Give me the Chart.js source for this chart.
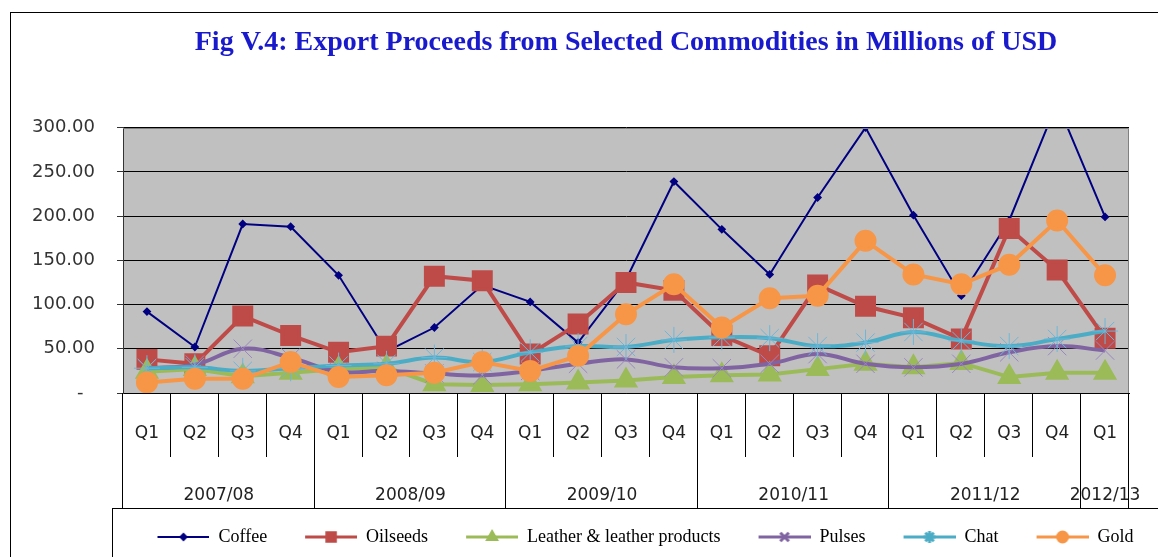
<!DOCTYPE html>
<html>
<head>
<meta charset="utf-8">
<title>Export Proceeds from Selected Commodities</title>
<script src="https://cdn.jsdelivr.net/npm/chart.js@4.4.1/dist/chart.umd.min.js"></script>
<style>
  html, body { margin: 0; padding: 0; background: #fff; }
</style>
</head>
<body>
<canvas id="myChart" width="1158" height="557"></canvas>
<script>
// quarters and fiscal years on the x axis
var quarters = ['Q1', 'Q2', 'Q3', 'Q4', 'Q1', 'Q2', 'Q3', 'Q4', 'Q1', 'Q2', 'Q3', 'Q4',
                'Q1', 'Q2', 'Q3', 'Q4', 'Q1', 'Q2', 'Q3', 'Q4', 'Q1'];
var years = ['2007/08', '2008/09', '2009/10', '2010/11', '2011/12', '2012/13'];

// export proceeds, millions of USD
var coffee   = [92, 52, 191, 188, 133, 47, 74, 122, 103, 57, 128, 239, 185, 134, 221, 300, 201, 110, 195, 328, 199];
var oilseeds = [38, 33, 87, 65, 46, 53, 132, 127, 44, 78, 125, 116, 65, 42, 122, 98, 85, 61, 186, 139, 62];
var leather  = [24, 27, 19, 23, 27, 29, 10, 9, 10, 12, 14, 18, 20, 21, 27, 33, 29, 34, 18, 23, 23];
var pulses   = [28, 32, 50, 40, 24, 25, 22, 20, 25, 33, 38, 29, 28, 33, 44, 33, 29, 33, 46, 53, 48];
var chat     = [28, 29, 25, 28, 31, 33, 40, 35, 46, 53, 52, 60, 63, 62, 53, 57, 69, 59, 53, 61, 70];
var gold     = [12, 16, 16, 35, 18, 20, 23, 35, 25, 42, 89, 123, 74, 107, 110, 172, 134, 123, 145, 195, 133];

var yTicks = [0, 50, 100, 150, 200, 250, 300];

Chart.defaults.font.family = '"DejaVu Sans", sans-serif';

// little line + marker pictures for the legend
function sample(color, lw, style, r, markerColor) {
    var c = document.createElement('canvas');
    c.width = 70;
    c.height = 18;
    var g = c.getContext('2d');
    g.strokeStyle = color;
    g.lineWidth = lw;
    g.beginPath();
    g.moveTo(18, 9);
    g.lineTo(70, 9);
    g.stroke();
    g.fillStyle = markerColor || color;
    g.strokeStyle = markerColor || color;
    Chart.helpers.drawPoint(g, {pointStyle: style, radius: r, rotation: 0, borderWidth: 1}, 44, 9);
    return c;
}

var tablePlugin = {
    id: 'table',
    afterLayout: function(chart) {
        // the legend row sits a bit right of centre, under the plot
        chart.legend.left += 72;
        chart.legend.right += 72;
    },
    beforeDraw: function(chart) {
        var ctx = chart.ctx, a = chart.chartArea;
        ctx.save();
        ctx.fillStyle = '#ffffff';
        ctx.fillRect(0, 0, chart.width, chart.height);
        ctx.fillStyle = '#c0c0c0';
        ctx.fillRect(a.left, a.top, a.right - a.left, a.bottom - a.top);
        ctx.restore();
    },
    afterDatasetsDraw: function(chart) {
        var ctx = chart.ctx, a = chart.chartArea;
        ctx.save();
        ctx.strokeStyle = '#808080';
        ctx.lineWidth = 1;
        ctx.beginPath();
        ctx.moveTo(a.left, Math.round(a.top) + 0.5);
        ctx.lineTo(Math.round(a.right) - 0.5, Math.round(a.top) + 0.5);
        ctx.lineTo(Math.round(a.right) - 0.5, a.bottom);
        ctx.stroke();
        ctx.restore();
    },
    afterDraw: function(chart) {
        var ctx = chart.ctx, a = chart.chartArea, x = chart.scales.x;
        var n = quarters.length;
        ctx.save();
        ctx.strokeStyle = '#000';
        ctx.lineWidth = 1;
        for (var i = 0; i <= n; i++) {
            var px;
            if (i === 0) px = a.left;
            else if (i === n) px = a.right;
            else px = (x.getPixelForValue(i - 1) + x.getPixelForValue(i)) / 2;
            px = Math.round(px) - 0.5;
            var yearEdge = (i % 4 === 0) || i === n;
            ctx.beginPath();
            ctx.moveTo(px, a.bottom);
            ctx.lineTo(px, yearEdge ? x.bottom : a.bottom + 64);
            ctx.stroke();
        }
        ctx.fillStyle = '#222';
        ctx.font = '17px "DejaVu Sans"';
        ctx.textAlign = 'center';
        ctx.textBaseline = 'middle';
        years.forEach(function(yr, k) {
            var first = k * 4;
            var last = Math.min(first + 3, n - 1);
            var cx = (x.getPixelForValue(first) + x.getPixelForValue(last)) / 2;
            ctx.fillText(yr, cx, a.bottom + 103);
        });
        // outer frame and legend box
        ctx.strokeRect(10.5, 12.5, chart.width, chart.height);
        ctx.strokeRect(112.5, Math.round(chart.legend.top) + 0.5, chart.width, chart.height);
        ctx.restore();
    }
};

var samples = [
    sample('#000080', 2, 'rectRot', 3),
    sample('#be4b48', 3, 'rect', 6),
    sample('#9bbb59', 3, 'triangle', 5),
    sample('#8064a2', 3, 'crossRot', 6),
    sample('#4bacc6', 3, 'star', 6),
    sample('#f79646', 3, 'circle', 5)
];

var ctx = document.getElementById('myChart');
var myChart = new Chart(ctx, {
    type: 'line',
    data: {
        labels: quarters,
        datasets: [{
            label: 'Coffee',
            data: coffee,
            borderColor: '#000080',
            backgroundColor: '#000080',
            borderWidth: 2,
            pointStyle: 'rectRot',
            pointRadius: 3,
            clip: 0,
            order: 6
        }, {
            label: 'Oilseeds',
            data: oilseeds,
            borderColor: '#be4b48',
            backgroundColor: '#be4b48',
            borderWidth: 4,
            pointStyle: 'rect',
            pointRadius: 12,
            order: 5
        }, {
            label: 'Leather & leather products',
            data: leather,
            borderColor: '#9bbb59',
            backgroundColor: '#9bbb59',
            borderWidth: 4,
            pointStyle: 'triangle',
            pointRadius: 10,
            order: 4
        }, {
            label: 'Pulses',
            data: pulses,
            borderColor: '#8064a2',
            backgroundColor: '#8064a2',
            pointBorderColor: '#9a88c0',
            borderWidth: 4,
            tension: 0.4,
            pointStyle: 'crossRot',
            pointRadius: 13,
            pointBorderWidth: 1,
            order: 3
        }, {
            label: 'Chat',
            data: chat,
            borderColor: '#4bacc6',
            backgroundColor: '#4bacc6',
            pointBorderColor: '#6fb6d8',
            borderWidth: 4,
            tension: 0.4,
            pointStyle: 'star',
            pointRadius: 13,
            pointBorderWidth: 1,
            order: 2
        }, {
            label: 'Gold',
            data: gold,
            borderColor: '#f79646',
            backgroundColor: '#f79646',
            borderWidth: 4,
            pointStyle: 'circle',
            pointRadius: 9,
            order: 1
        }]
    },
    options: {
        responsive: false,
        animation: false,
        events: [],
        layout: {
            padding: {top: 0, right: 29, bottom: 1, left: 0}
        },
        scales: {
            x: {
                offset: true,
                ticks: {
                    color: '#222',
                    font: {size: 17},
                    padding: 30,
                    maxRotation: 0,
                    autoSkip: false
                },
                grid: {display: false, drawTicks: false, offset: true},
                border: {color: '#000'},
                afterFit: function(s) { s.height = 115; }
            },
            y: {
                min: 0,
                max: 300,
                afterBuildTicks: function(s) { s.ticks = yTicks.map(function(v) { return {value: v}; }); },
                ticks: {
                    padding: 22,
                    color: '#333',
                    font: {size: 18},
                    callback: function(v) { return v === 0 ? '-  ' : v.toFixed(2); }
                },
                grid: {color: '#000', tickLength: 6, tickColor: '#333'},
                border: {color: '#333'},
                afterFit: function(s) { s.width = 123; }
            }
        },
        plugins: {
            title: {
                display: true,
                text: 'Fig V.4: Export Proceeds from Selected Commodities in Millions of USD',
                fullSize: false,
                color: '#1a1acd',
                font: {family: '"Liberation Serif", serif', size: 28, weight: 'bold'},
                padding: {top: 26, bottom: 68}
            },
            legend: {
                position: 'bottom',
                maxHeight: 48,
                labels: {
                    usePointStyle: true,
                    pointStyleWidth: 70,
                    boxHeight: 18,
                    padding: 20,
                    color: '#000',
                    font: {family: '"Liberation Serif", serif', size: 18},
                    generateLabels: function(chart) {
                        return chart.data.datasets.map(function(ds, i) {
                            return {
                                text: ds.label,
                                pointStyle: samples[i],
                                fillStyle: ds.borderColor,
                                strokeStyle: ds.borderColor,
                                lineWidth: 0,
                                hidden: false,
                                datasetIndex: i,
                                fontColor: '#000'
                            };
                        });
                    }
                }
            },
            tooltip: {enabled: false}
        }
    },
    plugins: [tablePlugin]
});
</script>
</body>
</html>
